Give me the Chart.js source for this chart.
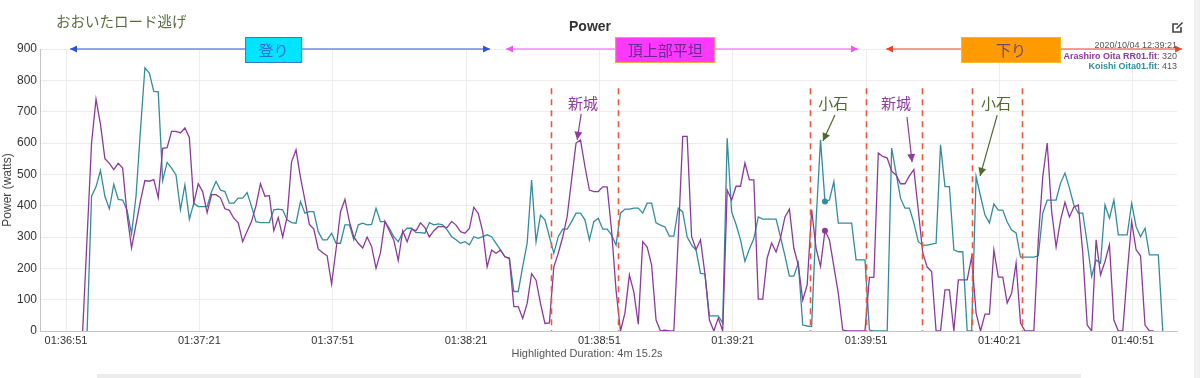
<!DOCTYPE html>
<html>
<head>
<meta charset="utf-8">
<title>Power</title>
<script src="https://cdn.jsdelivr.net/npm/chart.js@4.4.0/dist/chart.umd.min.js"></script>
<style>
  html, body { margin: 0; padding: 0; background: #fff; }
  canvas { display: block; }
</style>
</head>
<body>
<canvas id="powerChart" width="1200" height="378"></canvas>
<script>
// one sample per second, first sample is this many seconds after 01:36:51
var firstSampleSec = 3.75;

var arashiroWatts = [
  0, 300, 600, 740, 660, 550, 535, 515, 535, 520,
  370, 265, 340, 415, 480, 478, 483, 425, 583, 585,
  637, 637, 632, 648, 618, 408, 470, 445, 378, 435,
  435, 425, 390, 385, 360, 345, 285, 318, 350, 400,
  470, 430, 432, 320, 362, 300, 365, 540, 578, 490,
  418, 340, 325, 262, 250, 240, 150, 260, 380, 420,
  350, 300, 280, 265, 300, 270, 200, 250, 350, 320,
  290, 225, 320, 285, 325, 320, 345, 330, 300, 320,
  333, 333, 330, 350, 338, 317, 312, 327, 395, 375,
  317, 205, 258, 248, 258, 237, 232, 78, 78, 40,
  88, 183, 162, 88, 24, 26, 205, 248, 300, 365,
  483, 600, 610, 525, 450, 445, 445, 460, 460, 320,
  130, 0, 57, 179, 124, 22, 285, 268, 210, 35,
  0, 3, 0, 0, 300, 621, 621, 301, 260, 291,
  182, 35, 0, 41, 0, 450, 418, 462, 462, 536,
  482, 482, 102, 102, 233, 281, 252, 297, 364, 389,
  264, 210, 99, 147, 387, 264, 206, 320, 291, 206,
  120, 3, 0, 0, 0, 0, 0, 171, 171, 568,
  557, 552, 510, 498, 470, 470, 495, 515, 386, 249,
  204, 190, 0, 0, 131, 131, 0, 163, 163, 163,
  237, 57, 0, 54, 54, 258, 172, 172, 89, 121,
  217, 25, 0, 0, 0, 291, 493, 600, 381, 268,
  354, 411, 364, 396, 402, 250, 19, 0, 291, 179,
  222, 275, 35, 0, 0, 184, 349, 259, 240, 19,
  0, 0
];

var koishiWatts = [
  null, 0, 430, 460, 512, 430, 390, 468, 420, 418,
  385, 310, 430, 640, 840, 823, 765, 763, 480, 538,
  520, 498, 387, 467, 357, 408, 397, 397, 397, 445,
  477, 450, 445, 408, 408, 424, 424, 442, 397, 349,
  346, 346, 346, 387, 389, 387, 355, 346, 344, 413,
  376, 381, 381, 317, 291, 291, 312, 280, 280, 339,
  339, 291, 339, 344, 339, 340, 392, 349, 349, 328,
  301, 285, 314, 328, 328, 314, 314, 312, 346, 339,
  342, 339, 323, 301, 291, 280, 285, 275, 301, 296,
  301, 307, 301, 280, 259, 237, 232, 126, 126, 206,
  280, 482, 285, 370, 355, 301, 248, 301, 325, 325,
  349, 376, 376, 355, 291, 349, 360, 325, 325, 306,
  274, 376, 389, 389, 392, 392, 376, 408, 408, 345,
  338, 332, 303, 303, 392, 380, 300, 274, 258, 184,
  182, 48, 48, 48, 25, 615, 380, 340, 291, 222,
  262, 295, 364, 357, 357, 357, 357, 300, 240, 175,
  175, 217, 19, 16, 14, 350, 610, 413, 418, 477,
  344, 344, 344, 344, 227, 227, 227, 3, 0, 0,
  0, 0, 584, 504, 424, 392, 392, 345, 285, 274,
  274, 277, 280, 594, 461, 461, 259, 253, 253, 0,
  0, 493, 430, 370, 345, 405, 386, 386, 348, 322,
  313, 236, 236, 236, 236, 240, 376, 418, 418, 418,
  472, 504, 456, 402, 376, 376, 280, 174, 227, 216,
  402, 360, 418, 307, 307, 307, 408, 333, 301, 328,
  243, 243, 243, 0
];

var tickSeconds = [0, 30, 60, 90, 120, 150, 180, 210, 240];
var tickLabels = ['01:36:51', '01:37:21', '01:37:51', '01:38:21', '01:38:51',
                  '01:39:21', '01:39:51', '01:40:21', '01:40:51'];

var hoverIndex = 167;
var hoverTime = '2020/10/04 12:39:21';

// red dashed markers (seconds after 01:36:51)
var markerSeconds = [109.1, 124.2, 167.4, 180, 192.6, 203.9, 215.1];

var sections = [
  { text: '登り', from: 0.9, to: 95.4, center: 46.7, w: 57, line: '#3050d8', fill: '#00e5ff', edge: '#3a78c8', ink: '#2a6fd6' },
  { text: '頂上部平坦', from: 99, to: 178.2, center: 134.8, w: 100, line: '#ee58ee', fill: '#ff38ff', edge: '#f0a840', ink: '#6a2a8e' },
  { text: '下り', from: 184.5, to: 251.1, center: 212.6, w: 100, line: '#e8452a', fill: '#ff9a00', edge: '#f4b830', ink: '#6e4a6e' }
];

var callouts = [
  { text: '新城', at: [116.3, 728], tail: [115.9, 693], tip: [115.0, 610], color: '#8e3c9e' },
  { text: '小石', at: [172.6, 728], tail: [173.0, 689], tip: [170.3, 606], color: '#4f6a2a' },
  { text: '新城', at: [186.75, 728], tail: [189.2, 683], tip: [190.35, 539], color: '#8e3c9e' },
  { text: '小石', at: [209.25, 728], tail: [209.5, 689], tip: [205.65, 495], color: '#4f6a2a' }
];

var purple = '#8b3a9c';
var teal = '#338c9b';
var latin = "'Liberation Sans', Arial, sans-serif";
var jp = "'Noto Sans CJK JP', sans-serif";

function toPoints(values) {
  return values.map(function (w, i) { return { x: firstSampleSec + i, y: w }; });
}

function arrowHead(ctx, x0, y0, x1, y1, len, half) {
  var a = Math.atan2(y1 - y0, x1 - x0);
  ctx.beginPath();
  ctx.moveTo(x1, y1);
  ctx.lineTo(x1 - len * Math.cos(a) + half * Math.sin(a), y1 - len * Math.sin(a) - half * Math.cos(a));
  ctx.lineTo(x1 - len * Math.cos(a) - half * Math.sin(a), y1 - len * Math.sin(a) + half * Math.cos(a));
  ctx.closePath();
  ctx.fill();
}

// everything the library does not draw by itself
var overlay = {
  id: 'overlay',
  afterDraw: function (chart) {
    var ctx = chart.ctx;
    var xs = chart.scales.x, ys = chart.scales.y;
    var area = chart.chartArea;
    ctx.save();

    // page bits: scrollbar strip, bottom rule
    ctx.fillStyle = '#f1f1f1';
    ctx.fillRect(1194, 0, 6, 378);
    ctx.fillStyle = '#ececec';
    ctx.fillRect(97, 374, 984, 4);

    // dashed markers
    ctx.strokeStyle = '#f0573a';
    ctx.lineWidth = 1.6;
    ctx.setLineDash([6, 5]);
    markerSeconds.forEach(function (s) {
      var x = Math.round(xs.getPixelForValue(s)) + 0.5;
      ctx.beginPath();
      ctx.moveTo(x, ys.getPixelForValue(775));
      ctx.lineTo(x, area.bottom);
      ctx.stroke();
    });
    ctx.setLineDash([]);

    // section ranges along the 900 line
    var yTop = ys.getPixelForValue(900);
    sections.forEach(function (s) {
      var x0 = xs.getPixelForValue(s.from), x1 = xs.getPixelForValue(s.to);
      ctx.strokeStyle = s.line;
      ctx.fillStyle = s.line;
      ctx.lineWidth = 1.2;
      ctx.beginPath();
      ctx.moveTo(x0, yTop);
      ctx.lineTo(x1, yTop);
      ctx.stroke();
      arrowHead(ctx, x1, yTop, x0, yTop, 7, 3.5);
      arrowHead(ctx, x0, yTop, x1, yTop, 7, 3.5);
      var cx = xs.getPixelForValue(s.center);
      ctx.fillStyle = s.fill;
      ctx.fillRect(cx - s.w / 2, yTop - 12, s.w, 26);
      ctx.strokeStyle = s.edge;
      ctx.lineWidth = 1;
      ctx.strokeRect(cx - s.w / 2 + 0.5, yTop - 11.5, s.w - 1, 25);
      ctx.fillStyle = s.ink;
      ctx.font = '15px ' + jp;
      ctx.textAlign = 'center';
      ctx.textBaseline = 'middle';
      ctx.fillText(s.text, cx, yTop + 1);
    });

    // rider callouts
    callouts.forEach(function (c) {
      var tx = xs.getPixelForValue(c.at[0]), ty = ys.getPixelForValue(c.at[1]);
      ctx.fillStyle = c.color;
      ctx.strokeStyle = c.color;
      ctx.font = '15px ' + jp;
      ctx.textAlign = 'center';
      ctx.textBaseline = 'middle';
      ctx.fillText(c.text, tx, ty);
      var ax = xs.getPixelForValue(c.tail[0]), ay = ys.getPixelForValue(c.tail[1]);
      var bx = xs.getPixelForValue(c.tip[0]), by = ys.getPixelForValue(c.tip[1]);
      ctx.lineWidth = 1.2;
      ctx.beginPath();
      ctx.moveTo(ax, ay);
      ctx.lineTo(bx, by);
      ctx.stroke();
      arrowHead(ctx, ax, ay, bx, by, 8, 4);
    });

    // titles
    ctx.textBaseline = 'middle';
    ctx.textAlign = 'left';
    ctx.fillStyle = '#5a6a3e';
    ctx.font = '14.5px ' + jp;
    ctx.fillText('おおいたロード逃げ', 56, 21);
    ctx.textAlign = 'center';
    ctx.fillStyle = '#333';
    ctx.font = 'bold 14px ' + latin;
    ctx.fillText('Power', 590, 27);
    ctx.fillStyle = '#555';
    ctx.font = '11px ' + latin;
    ctx.fillText('Highlighted Duration: 4m 15.2s', 587, 354);

    // edit icon
    ctx.strokeStyle = '#444';
    ctx.lineWidth = 1.6;
    ctx.beginPath();
    ctx.moveTo(1178, 24);
    ctx.lineTo(1173, 24);
    ctx.lineTo(1173, 32);
    ctx.lineTo(1181, 32);
    ctx.lineTo(1181, 27);
    ctx.stroke();
    ctx.beginPath();
    ctx.moveTo(1176.5, 28.5);
    ctx.lineTo(1182.5, 22.5);
    ctx.stroke();

    // hover readout
    var right = area.right;
    ctx.textAlign = 'right';
    ctx.font = '9px ' + latin;
    ctx.fillStyle = '#555';
    ctx.fillText(hoverTime, right, 46);
    var rows = [
      { name: chart.data.datasets[0].label, value: arashiroWatts[hoverIndex], color: purple, y: 57 },
      { name: chart.data.datasets[1].label, value: koishiWatts[hoverIndex], color: teal, y: 67 }
    ];
    rows.forEach(function (r) {
      var tail = ': ' + r.value;
      ctx.font = '9px ' + latin;
      ctx.fillStyle = '#555';
      ctx.fillText(tail, right, r.y);
      var w = ctx.measureText(tail).width;
      ctx.font = 'bold 9px ' + latin;
      ctx.fillStyle = r.color;
      ctx.fillText(r.name, right - w, r.y);
    });

    ctx.restore();
  }
};

function dot() {
  return function (c) { return c.dataIndex === hoverIndex ? 3 : 0; };
}

var ctx = document.getElementById('powerChart').getContext('2d');

var powerChart = new Chart(ctx, {
  type: 'line',
  data: {
    datasets: [{
      label: 'Arashiro Oita RR01.fit',
      data: toPoints(arashiroWatts),
      borderColor: purple,
      backgroundColor: purple,
      borderWidth: 1.3,
      pointRadius: dot(),
      pointBorderWidth: 0,
      tension: 0
    }, {
      label: 'Koishi Oita01.fit',
      data: toPoints(koishiWatts),
      borderColor: teal,
      backgroundColor: teal,
      borderWidth: 1.3,
      pointRadius: dot(),
      pointBorderWidth: 0,
      tension: 0
    }]
  },
  options: {
    responsive: false,
    animation: false,
    events: [],
    layout: { padding: { top: 49, right: 23, left: 0, bottom: 0 } },
    plugins: {
      legend: { display: false },
      title: { display: false },
      tooltip: { enabled: false }
    },
    scales: {
      x: {
        type: 'linear',
        min: -5.85,
        max: 249.95,
        afterBuildTicks: function (axis) {
          axis.ticks = tickSeconds.map(function (v) { return { value: v }; });
        },
        afterFit: function (axis) { axis.height = 47; },
        ticks: {
          padding: 3,
          maxRotation: 0,
          color: '#333',
          font: { family: latin, size: 11 },
          callback: function (value) {
            var i = tickSeconds.indexOf(value);
            return i < 0 ? '' : tickLabels[i];
          }
        },
        grid: { color: '#ececec', drawTicks: false },
        border: { color: '#c4c4c4' }
      },
      y: {
        min: 0,
        max: 900,
        afterFit: function (axis) { axis.width = 40; },
        ticks: {
          stepSize: 100,
          padding: 3,
          color: '#333',
          font: { family: latin, size: 12 }
        },
        grid: { color: '#ececec', drawTicks: false },
        border: { color: '#c4c4c4' },
        title: {
          display: true,
          text: 'Power (watts)',
          color: '#444',
          padding: { top: 0, bottom: 0 },
          font: { family: latin, size: 12 }
        }
      }
    }
  },
  plugins: [overlay]
});
</script>
</body>
</html>
